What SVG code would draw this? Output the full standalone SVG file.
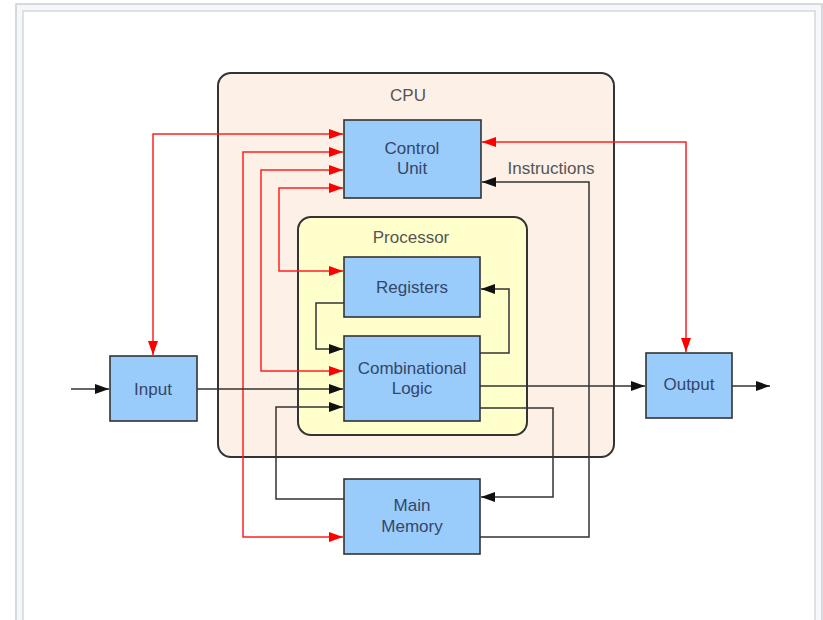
<svg xmlns="http://www.w3.org/2000/svg" width="823" height="620" viewBox="0 0 823 620">
<style>
.node{fill:#99ccfb;stroke:#333;stroke-width:1.6}
.lbl{font-family:"Liberation Sans",Arial,sans-serif;font-size:17px;fill:#34466a;text-anchor:middle}
.glbl{font-family:"Liberation Sans",Arial,sans-serif;font-size:17px;fill:#555;text-anchor:middle}
.red{fill:none;stroke:#ff2020;stroke-width:1.5;marker-end:url(#ar);marker-start:url(#ar)}
.blk{fill:none;stroke:#333;stroke-width:1.5;marker-end:url(#ab)}
</style>
<defs>
<marker id="ar" markerUnits="userSpaceOnUse" markerWidth="14" markerHeight="10" refX="14" refY="5" orient="auto-start-reverse"><path d="M0,0 L14,5 L0,10 z" fill="#ff0000"/></marker>
<marker id="ab" markerUnits="userSpaceOnUse" markerWidth="14" markerHeight="10" refX="14" refY="5" orient="auto"><path d="M0,0 L14,5 L0,10 z" fill="#111"/></marker>
</defs>
<rect x="0" y="0" width="823" height="620" fill="#fff"/>
<rect x="16" y="4" width="806" height="660" fill="#f6f7f9" stroke="#c9ced6" stroke-width="1.5"/>
<rect x="23" y="11" width="792" height="650" fill="#fff" stroke="#d3d7de" stroke-width="1.5"/>
<g id="cpu">
<rect x="218" y="73" width="396" height="384" rx="13" fill="#fdf0e6" stroke="#333" stroke-width="2"/>
<text class="glbl" x="408" y="101">CPU</text>
</g>
<g id="processor">
<rect x="298" y="217" width="229" height="218" rx="13" fill="#ffffcc" stroke="#333" stroke-width="2"/>
<text class="glbl" x="411" y="243">Processor</text>
</g>
<g id="connectors">
<path class="red" d="M153,355 V134 H343"/>
<path class="red" d="M343,152 H243 V537 H343"/>
<path class="red" d="M343,170 H261 V371 H343"/>
<path class="red" d="M343,188 H279 V271 H343"/>
<path class="red" d="M482,142 H686 V352"/>
<path class="blk" d="M71,389 H109"/>
<path class="blk" d="M197,389 H343"/>
<path class="blk" d="M344,303 H316 V349 H343"/>
<path class="blk" d="M480,353 H509 V289 H481"/>
<path class="blk" d="M480,386 H645"/>
<path class="blk" d="M732,386 H770"/>
<path class="blk" d="M480,408 H553 V497 H481"/>
<path class="blk" d="M480,537 H589 V182 H482"/>
<path class="blk" d="M344,499 H276 V407 H343"/>
<text class="glbl" x="551" y="174">Instructions</text>
</g>
<g id="control-unit">
<rect class="node" x="344" y="120" width="137" height="78"/>
<text class="lbl" x="412" y="154">Control</text>
<text class="lbl" x="412" y="174">Unit</text>
</g>
<g id="registers">
<rect class="node" x="344" y="257" width="136" height="60"/>
<text class="lbl" x="412" y="293">Registers</text>
</g>
<g id="combinational-logic">
<rect class="node" x="344" y="336" width="136" height="85"/>
<text class="lbl" x="412" y="374">Combinational</text>
<text class="lbl" x="412" y="394">Logic</text>
</g>
<g id="main-memory">
<rect class="node" x="344" y="479" width="136" height="75"/>
<text class="lbl" x="412" y="511">Main</text>
<text class="lbl" x="412" y="532">Memory</text>
</g>
<g id="input">
<rect class="node" x="110" y="356" width="87" height="65"/>
<text class="lbl" x="153" y="395">Input</text>
</g>
<g id="output">
<rect class="node" x="646" y="353" width="86" height="65"/>
<text class="lbl" x="689" y="390">Output</text>
</g>
</svg>
